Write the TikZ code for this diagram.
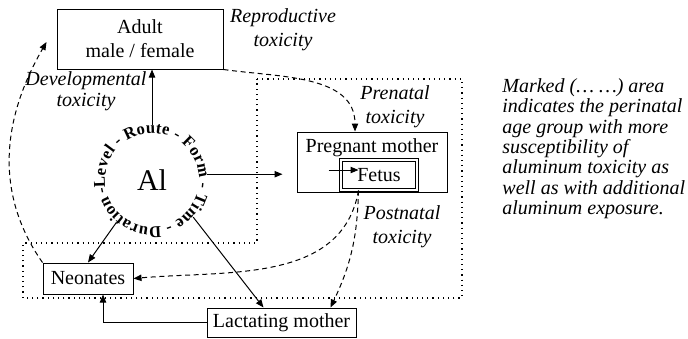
\documentclass[tikz,border=0pt]{standalone}
\usepackage{fontspec}
\setmainfont{Liberation Serif}
\usepackage{tikz}
\usetikzlibrary{arrows.meta}
\usetikzlibrary{decorations.text}
\tikzstyle{box}=[draw,line width=.5pt,inner sep=0pt]
\tikzstyle{lbl}=[font=\itshape,align=center]
\tikzstyle{arr}=[line width=.5pt,-{Triangle[length=4pt,width=3.2pt]}]
\tikzstyle{impl}=[arr,dash pattern=on 2.5pt off 1.8pt]
\tikzstyle{zone}=[line width=.6pt,dotted]

\begin{document}
\begin{tikzpicture}[x=.5pt,y=-.5pt]
	\useasboundingbox (0,0) rectangle (688,338);
	\draw[zone] (257,79) -- (462,79) -- (462,298) -- (23,298) -- (23,243) -- (257,243) -- cycle;
	\node[box,minimum width=83pt,minimum height=30pt,align=center] (adult) at (140,39) {Adult\\male / female};
	\node[box,minimum width=75pt,minimum height=30pt,
	      label={[anchor=north,yshift=0pt]north:Pregnant mother}] (preg) at (372,162) {};
	\node[box,double,double distance=1.2pt,minimum width=38pt,minimum height=15pt] (fetus) at (379,175) {Fetus};
	\node[box,minimum width=45pt,minimum height=15.5pt] (neo) at (88,278.5) {Neonates};
	\node[box,minimum width=74.5pt,minimum height=14.5pt] (lac) at (281.5,322.5) {Lactating mother};
	\node[circle,minimum size=55pt,inner sep=0pt,font=\fontsize{15}{18}\selectfont] (al) at (152,180) {Al};
	\path[decorate,decoration={text along path,text align=fit to path,
	      text={|\bfseries\fontsize{8.3}{9}\selectfont|-Level - Route - Form - Time - Duration}}]
	      (al.center) ++(196:23.5pt) arc[start angle=196,end angle=-160,radius=23.5pt];
	\draw[arr] (al.north) -- (al.north |- adult.south);
	\draw[arr,shorten >=7pt] (al.6) -- (al.6 -| preg.west);
	\draw[arr] ([xshift=-6pt,yshift=2.5pt]fetus.west) -- ([xshift=9pt,yshift=2.5pt]fetus.west);
	\draw[arr] (al.230) -- (neo.north);
	\draw[arr] (al.-42) -- ([xshift=-9pt]lac.north);
	\draw[arr] (lac.west) -| ([xshift=7.5pt]neo.south);
	\draw[impl] (adult.south east) to[out=-8,in=90] ([xshift=-8.5pt]preg.north);
	\draw[impl] ([xshift=9pt]fetus.south west) to[out=-100,in=5] (neo.east);
	\draw[impl] ([xshift=9pt]fetus.south west) to[bend left=12] ([xshift=24.5pt]lac.north);
	\draw[impl] (neo.north west) to[out=125,in=-120] ([xshift=-5pt,yshift=-1.5pt]adult.west);
	\node[lbl] (repro) at (283,30) {Reproductive\\toxicity};
	\node[lbl,font=\itshape\fontsize{10}{10.5}\selectfont] (devel) at (86,91) {Developmental\\toxicity};
	\node[lbl] (prena) at (395,107) {Prenatal\\toxicity};
	\node[lbl] (postn) at (402,227) {Postnatal\\toxicity};
	\node[lbl,align=left,anchor=north west,inner sep=0pt,font=\itshape\fontsize{10}{10.2}\selectfont] (note) at (502,78)
	     {Marked (… …) area\\indicates the perinatal\\age group with more\\susceptibility of\\aluminum toxicity as\\well as with additional\\aluminum exposure.};
\end{tikzpicture}
\end{document}
